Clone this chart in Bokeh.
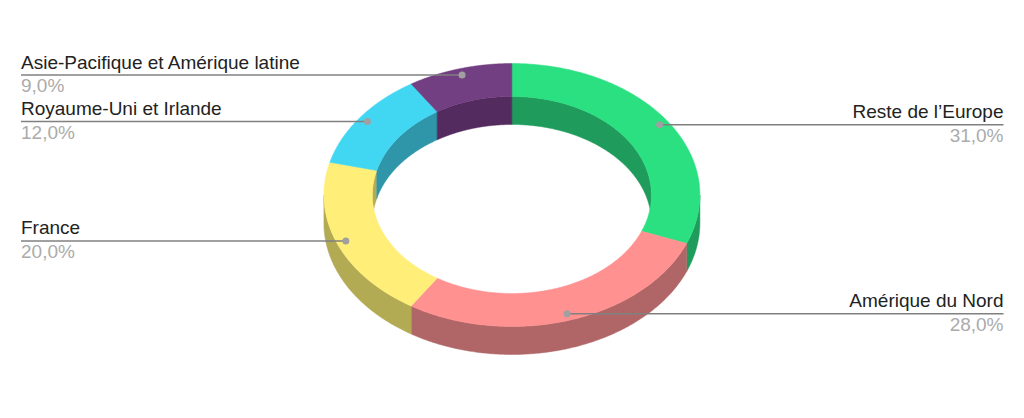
import numpy as np
from bokeh.plotting import figure
from bokeh.embed import file_html
from bokeh.resources import INLINE
from bokeh.core.properties import value
from bokeh.models import Range1d

categories = ["Reste de l’Europe", "Amérique du Nord", "France", "Royaume-Uni et Irlande", "Asie-Pacifique et Amérique latine"]
shares = [31.0, 28.0, 20.0, 12.0, 9.0]
pct_labels = ["31,0%", "28,0%", "20,0%", "12,0%", "9,0%"]
top_colors = ["#2AE081", "#FF9191", "#FFEE77", "#41D7F3", "#733F83"]
wall_colors = ["#1F9C5C", "#B06666", "#B3AA54", "#2F95A9", "#532B5E"]

W, H = 1008, 402
CX, CY = 511.4, 194.5
RX, RY = 188.0, 131.5
IRX, IRY = 139.5, 98.5
DEPTH = 28.0
LABEL_F = 0.95
LEFT_X, RIGHT_X = 20.5, 1003.0

p = figure(width=W, height=H, output_backend="svg", toolbar_location=None,
           x_range=Range1d(0, W), y_range=Range1d(H, 0),
           x_axis_type=None, y_axis_type=None, min_border=0,
           outline_line_color=None, background_fill_color="white")
p.grid.visible = False


def arc(rx, ry, a0, a1, dz=0.0):
    t = np.linspace(a0, a1, 160)
    return CX + rx * np.sin(t), CY - ry * np.cos(t) + dz


edges = np.cumsum([0.0] + shares) / sum(shares) * 2 * np.pi
segs = list(zip(edges[:-1], edges[1:]))


def wall(rx, ry, spans):
    xs, ys, cs = [], [], []
    for (a0, a1), c in zip(segs, wall_colors):
        for s0, s1 in spans:
            b0, b1 = max(a0, s0), min(a1, s1)
            if b1 <= b0:
                continue
            x0, y0 = arc(rx, ry, b0, b1)
            x1, y1 = arc(rx, ry, b0, b1, DEPTH)
            xs.append(np.r_[x0, x1[::-1]])
            ys.append(np.r_[y0, y1[::-1]])
            cs.append(c)
    p.patches(xs, ys, fill_color=cs, line_color=cs, line_width=0.5)


# the far half of the hole's wall and the near half of the outer wall
wall(IRX, IRY, [(0, np.pi / 2), (3 * np.pi / 2, 2 * np.pi)])
wall(RX, RY, [(np.pi / 2, 3 * np.pi / 2)])

# top faces
tx, ty = [], []
for a0, a1 in segs:
    x0, y0 = arc(RX, RY, a0, a1)
    x1, y1 = arc(IRX, IRY, a0, a1)
    tx.append(np.r_[x0, x1[::-1]])
    ty.append(np.r_[y0, y1[::-1]])
p.patches(tx, ty, fill_color=top_colors, line_color=top_colors, line_width=0.5)

# leaders and labels
mids = (edges[:-1] + edges[1:]) / 2
dx = CX + RX * LABEL_F * np.sin(mids)
dy = CY - RY * LABEL_F * np.cos(mids)
for x, y, m, cat, pct in zip(dx, dy, mids, categories, pct_labels):
    right = np.sin(m) > 0
    end = RIGHT_X if right else LEFT_X
    p.line([x, end], [y, y], line_color="#808080", line_width=1.5)
    align = "right" if right else "left"
    p.text([end], [y - 13], text=[cat], text_align=align, text_baseline="alphabetic",
           text_font=value("Liberation Sans"), text_font_size="19px", text_color="#222222")
    p.text([end], [y + 10.5], text=[pct], text_align=align, text_baseline="alphabetic",
           text_font=value("Liberation Sans"), text_font_size="19px", text_color="#ABABAB")
p.scatter(dx, dy, size=7, marker="circle", fill_color="#A0A0A0", line_color=None)

open("out.html", "w").write(file_html(p, INLINE))
